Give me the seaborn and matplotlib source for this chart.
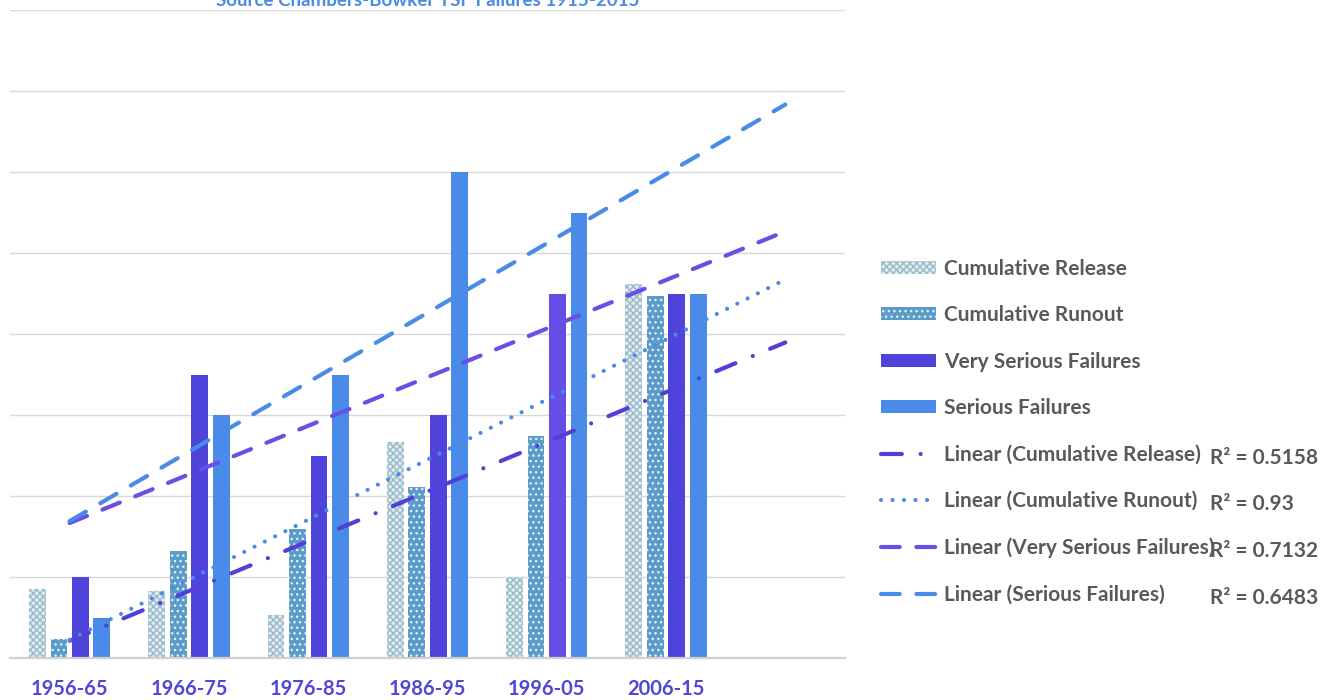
import numpy as np
import pandas as pd
import seaborn as sns
import matplotlib.pyplot as plt
from matplotlib.patches import Patch
from matplotlib.lines import Line2D

# data
decades = ['1956-65', '1966-75', '1976-85', '1986-95', '1996-05', '2006-15']
cum_release = [1.7, 1.65, 1.06, 5.33, 2.0, 9.23]
cum_runout = [0.47, 2.64, 3.19, 4.22, 5.48, 8.94]
very_serious = [2, 7, 5, 6, 9, 9]
serious = [1, 6, 7, 12, 11, 9]
series_names = ['Cumulative Release', 'Cumulative Runout',
                'Very Serious Failures', 'Serious Failures']
r2_labels = ['R² = 0.5158', 'R² = 0.93', 'R² = 0.7132', 'R² = 0.6483']
title = 'Source Chambers-Bowker TSF Failures 1915-2015'

series_values = [cum_release, cum_runout, very_serious, serious]
df = pd.DataFrame({
    'decade': np.tile(decades, 4),
    'series': np.repeat(series_names, len(decades)),
    'value': np.concatenate(series_values),
})

bar_colors = ['#dcecf1', '#5b9bc8', '#4f44d9', '#4a8ae8']
hatch_colors = ['#9ab8c8', '#e2f0f8', None, None]
hatches = ['xxxxx', '...', None, None]
trend_colors = ['#5040d8', '#4a8ae8', '#6a4ee8', '#4a8ae8']
trend_styles = [(0, (5, 4.5, 0.01, 4.5)), (0, (0.01, 2.75)),
                (0, (4.5, 4)), (0, (4.5, 4))]

sns.set_style('white')
plt.rcParams['font.family'] = ['Lato', 'DejaVu Sans']
plt.rcParams['hatch.linewidth'] = 1.0

fig = plt.figure(figsize=(13.37, 7), dpi=100)
ax = fig.add_axes([10 / 1337, 42 / 700, 835 / 1337, 648 / 700])

sns.barplot(data=df, x='decade', y='value', hue='series', order=decades,
            hue_order=series_names, palette=bar_colors, width=0.72, gap=0.22,
            saturation=1, legend=False, ax=ax)

for i, cont in enumerate(ax.containers):
    for p in cont.patches:
        p.set_linewidth(0)
        if hatches[i]:
            p.set_hatch(hatches[i])
            p.set_edgecolor(hatch_colors[i])
# the 1996-05 very serious bar is a lighter purple in the source
ax.containers[2].patches[4].set_facecolor('#654ee8')

# linear trend lines, forecast forward one period
x = np.arange(1, len(decades) + 1)
x_ext = np.arange(1, len(decades) + 2)
for vals, col, ls in zip(series_values, trend_colors, trend_styles):
    k, b = np.polyfit(x, vals, 1)
    ax.plot(x_ext - 1, k * x_ext + b, color=col, lw=3.0, linestyle=ls,
            dash_capstyle='round', solid_capstyle='round', zorder=5)

ax.set_xlim(-0.5, 6.5)
ax.set_ylim(0, 16)
ax.set_yticks(np.arange(0, 17, 2))
ax.yaxis.grid(True, color='#d9d9d9', lw=1)
ax.set_yticklabels([])
ax.tick_params(axis='y', length=0)
ax.tick_params(axis='x', length=0, pad=15)
ax.set_xticks(range(len(decades)))
ax.set_xticklabels(decades, fontsize=14.5, fontweight='bold', color='#5046d8')
ax.set_xlabel('')
ax.set_ylabel('')
for s in ['top', 'left', 'right']:
    ax.spines[s].set_visible(False)
ax.spines['bottom'].set_color('#d0d0d0')
ax.spines['bottom'].set_linewidth(1.6)

fig.text(428 / 1337, 1 - 1 / 700, title, ha='center', va='center',
         fontsize=13.5, fontweight='bold', color='#4a8ae8')

handles = []
for i in range(4):
    handles.append(Patch(facecolor=bar_colors[i], hatch=hatches[i],
                         edgecolor=hatch_colors[i] or bar_colors[i], lw=0))
for i in range(4):
    handles.append(Line2D([], [], color=trend_colors[i], lw=3.0,
                          linestyle=trend_styles[i], dash_capstyle='round'))
labels = series_names + ['Linear (%s)' % n for n in series_names]
leg = fig.legend(handles, labels, loc='upper left',
                 bbox_to_anchor=(862 / 1337, 1 - 240 / 700), frameon=False,
                 prop={'family': 'Lato', 'weight': 'bold', 'size': 15},
                 labelcolor='#595959', handlelength=2.65, handleheight=0.6,
                 handletextpad=0.4, labelspacing=1.27)

fig.canvas.draw()
inv = fig.transFigure.inverted()
for txt, r2 in zip(leg.get_texts()[4:], r2_labels):
    bb = txt.get_window_extent()
    yc = inv.transform((0, (bb.y0 + bb.y1) / 2))[1]
    fig.text(1210 / 1337, yc - 3 / 700, r2, ha='left', va='center',
             fontsize=15, fontweight='bold', color='#595959')

fig.savefig('out.png', dpi=100)
